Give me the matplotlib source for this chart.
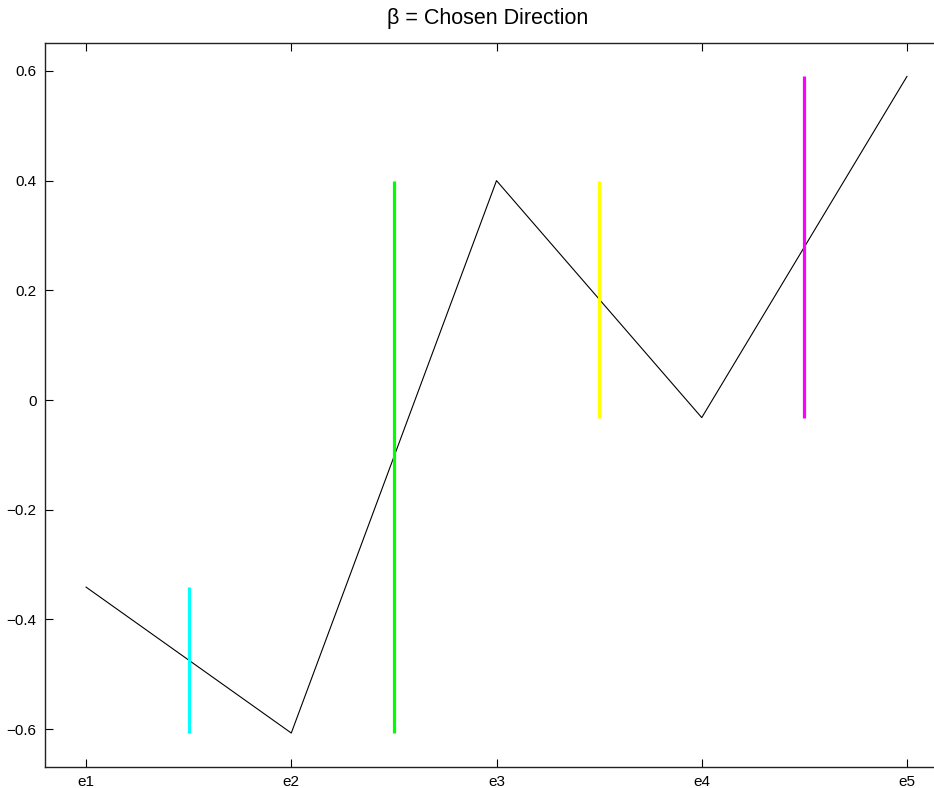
import numpy as np
import matplotlib.pyplot as plt

plt.rcParams['font.family'] = ['Liberation Sans', 'DejaVu Sans']

# valores da direção escolhida em cada vetor da base
labels = ['e1', 'e2', 'e3', 'e4', 'e5']
beta = [-0.341, -0.607, 0.400, -0.032, 0.590]
bar_colors = ['#00ffff', '#00ff00', '#ffff00', '#ff00ff']

x = np.arange(1, len(beta) + 1)

fig = plt.figure(figsize=(9.34, 7.88), dpi=100)
ax = fig.add_axes([0.0482, 0.0266, 0.9668, 0.9182])

ax.plot(x, beta, color='black', linewidth=0.8)

# barras verticais entre pontos consecutivos
for i, c in enumerate(bar_colors):
    lo = min(beta[i], beta[i + 1])
    hi = max(beta[i], beta[i + 1])
    ax.vlines(x[i] + 0.5, lo, hi, color=c, linewidth=2.3)

ax.set_xlim(0.8, 5.2)
ax.set_ylim(-0.669, 0.650)
ax.set_xticks(x)
ax.set_xticklabels(labels)
yt = [-0.6, -0.4, -0.2, 0, 0.2, 0.4, 0.6]
ax.set_yticks(yt)
ax.set_yticklabels([('%g' % v).replace('-', '\u2212') for v in yt])
ax.tick_params(direction='in', length=6, width=0.8, labelsize=11,
               top=True, right=False, pad=6)
ax.spines['right'].set_visible(False)
for s in ax.spines.values():
    s.set_linewidth(1.0)
    s.set_color('#222222')

fig.text(0.522, 0.977, 'β = Chosen Direction', fontsize=15.5,
         ha='center', va='center')

fig.savefig('out.png', dpi=100)
